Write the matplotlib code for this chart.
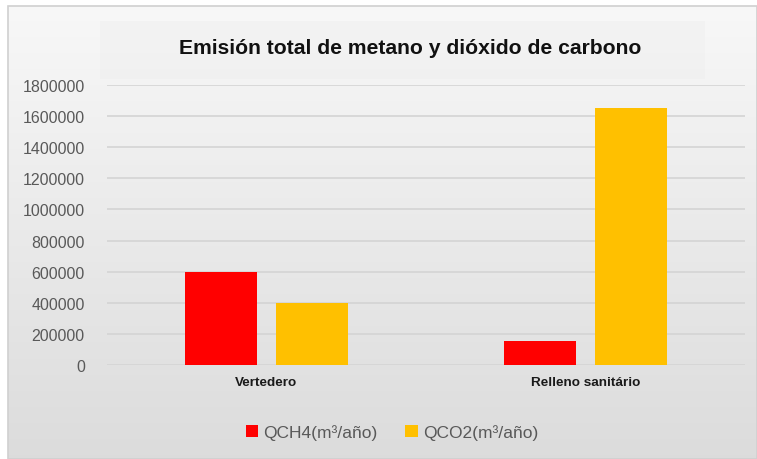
import matplotlib
matplotlib.use("Agg")
import matplotlib.pyplot as plt
import numpy as np
from matplotlib.patches import Rectangle

categories = ["Vertedero", "Relleno sanitário"]
series_names = ["QCH4(m³/año)", "QCO2(m³/año)"]
qch4 = [600000, 155000]
qco2 = [400000, 1650000]
yticks = [0, 200000, 400000, 600000, 800000, 1000000, 1200000, 1400000, 1600000, 1800000]
title = "Emisión total de metano y dióxido de carbono"

W, H = 757, 460
fig = plt.figure(figsize=(W / 100, H / 100), dpi=100)
fig.patch.set_facecolor("white")

# background gradient panel
bg = fig.add_axes([0, 0, 1, 1], zorder=-10)
bg.set_xlim(0, W)
bg.set_ylim(H, 0)
bg.axis("off")
grad = np.linspace(0, 1, 256).reshape(-1, 1)
top = np.array([0.972, 0.972, 0.972])
bot = np.array([0.862, 0.862, 0.862])
img = top + (bot - top) * grad[..., None]
img = img.reshape(256, 1, 3)
bg.imshow(img, extent=[8, W, H, 7], aspect="auto", interpolation="bilinear")
bg.add_patch(Rectangle((8, 7), W - 8, H - 7, fill=False, edgecolor="#d0d0d0", lw=1.2))
# subtle title panel
bg.add_patch(Rectangle((100, 22), 605, 58, facecolor="#ececec", edgecolor="none", alpha=0.3))

ax = fig.add_axes([107 / W, 1 - 366 / H, (745 - 107) / W, (366 - 86) / H])
ax.patch.set_alpha(0)
x = np.arange(len(categories))
bw = 0.226
off = 0.143
ax.bar(x - off, qch4, bw, color="#ff0000", label=series_names[0], zorder=3)
ax.bar(x + off, qco2, bw, color="#ffc000", label=series_names[1], zorder=3)
ax.set_xlim(-0.5, 1.5)
ax.set_ylim(0, 1800000)
ax.set_yticks(yticks)
ax.set_yticklabels([str(v) for v in yticks], fontsize=11.5, color="#595959",
                   family="Liberation Sans")
ax.set_xticks(x)
ax.set_xticklabels(categories, fontsize=9.7, fontweight="bold", color="#1a1a1a",
                   family="Liberation Sans")
ax.tick_params(axis="both", length=0)
ax.tick_params(axis="y", pad=16)
ax.tick_params(axis="x", pad=8)
ax.grid(axis="y", color="#d4d4d4", lw=1.2, zorder=0)
for s in ax.spines.values():
    s.set_visible(False)

fig.text(410 / W, 1 - 48 / H, title, ha="center", va="center", fontsize=15.2,
         fontweight="bold", color="#111111", family="Liberation Sans")

leg = fig.legend(loc="center", bbox_to_anchor=(392 / W, 1 - 433 / H), ncol=2,
                 frameon=False, prop={"family": "Liberation Sans", "size": 12.5},
                 handlelength=0.7, handleheight=0.7, handletextpad=0.3, columnspacing=1.6)
for t in leg.get_texts():
    t.set_color("#595959")

fig.savefig("out.png", dpi=100)
